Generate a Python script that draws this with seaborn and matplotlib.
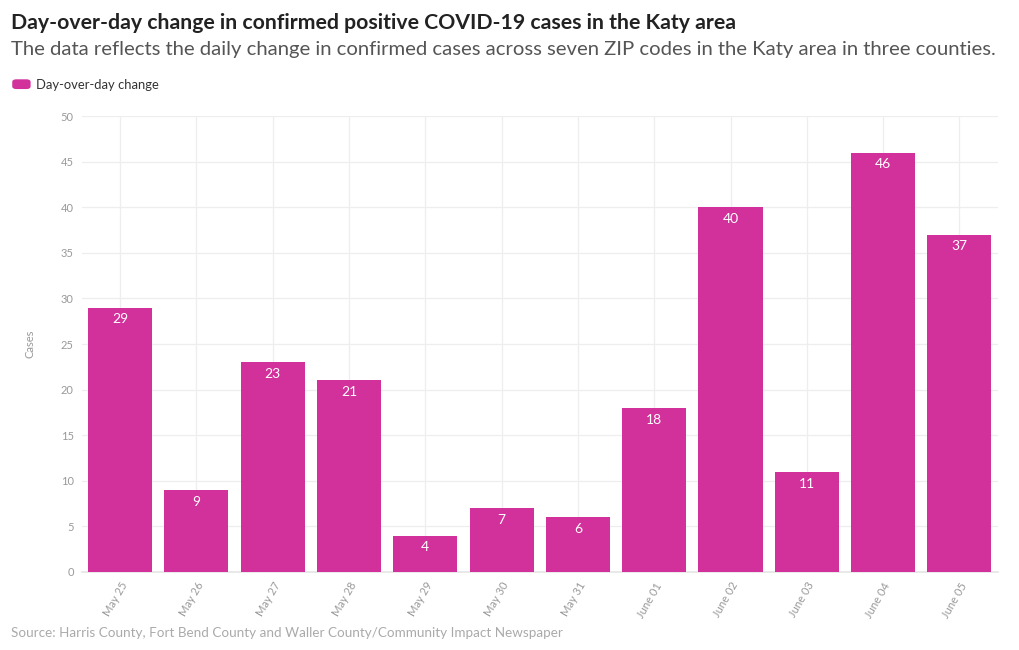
import matplotlib
matplotlib.use("Agg")
import matplotlib.pyplot as plt
import seaborn as sns
import pandas as pd
from matplotlib.patches import FancyBboxPatch

dates = ["May 25", "May 26", "May 27", "May 28", "May 29", "May 30", "May 31",
         "June 01", "June 02", "June 03", "June 04", "June 05"]
changes = [29, 9, 23, 21, 4, 7, 6, 18, 40, 11, 46, 37]
yticks = [0, 5, 10, 15, 20, 25, 30, 35, 40, 45, 50]

df = pd.DataFrame({"date": dates, "change": changes})

sns.set_theme(style="white")
plt.rcParams["font.family"] = ["Lato", "DejaVu Sans"]

color = "#D2309A"
fig = plt.figure(figsize=(10.2, 6.5), dpi=100)
ax = fig.add_axes([0.0804, 0.12, 0.8976, 0.7015])

sns.barplot(data=df, x="date", y="change", color=color, width=0.84,
            saturation=1, ax=ax, zorder=3, linewidth=0, edgecolor="none")

ax.set_ylim(0, 50)
ax.set_xlim(-0.5, len(dates) - 0.5)
ax.set_yticks(yticks)
ax.set_yticklabels([str(t) for t in yticks], color="#999999", fontsize=8)
ax.set_xticks(range(len(dates)))
ax.set_xticklabels(dates, rotation=60, ha="right", rotation_mode="anchor",
                   color="#999999", fontsize=8)
ax.tick_params(axis="both", length=0, pad=6)
ax.set_xlabel("")
ax.set_ylabel("Cases", color="#999999", fontsize=8, labelpad=18)

ax.grid(True, axis="both", color="#eeeeee", linewidth=0.9, zorder=0)
ax.set_axisbelow(True)
for s in ["top", "right", "left"]:
    ax.spines[s].set_visible(False)
ax.spines["bottom"].set_color("#e6e6e6")

for i, v in enumerate(changes):
    ax.text(i, v - 1.3, str(v), ha="center", va="center", color="white",
            fontsize=10, zorder=5)

fig.text(0.011, 0.965, "Day-over-day change in confirmed positive COVID-19 cases in the Katy area",
         fontsize=15.3, fontweight="bold", color="#222222", va="center", ha="left")
fig.text(0.011, 0.924, "The data reflects the daily change in confirmed cases across seven ZIP codes in the Katy area in three counties.",
         fontsize=14.6, color="#555555", va="center", ha="left")

# legend
fig.patches.append(FancyBboxPatch((0.012, 0.863), 0.018, 0.015,
                                  boxstyle="round,pad=0,rounding_size=0.004",
                                  transform=fig.transFigure, facecolor=color,
                                  edgecolor="none"))
fig.text(0.035, 0.869, "Day-over-day change", fontsize=9.4, color="#333333",
         va="center", ha="left")

fig.text(0.011, 0.026, "Source: Harris County, Fort Bend County and Waller County/Community Impact Newspaper",
         fontsize=9.7, color="#aaaaaa", va="center", ha="left")

fig.savefig("out.png", dpi=100)
